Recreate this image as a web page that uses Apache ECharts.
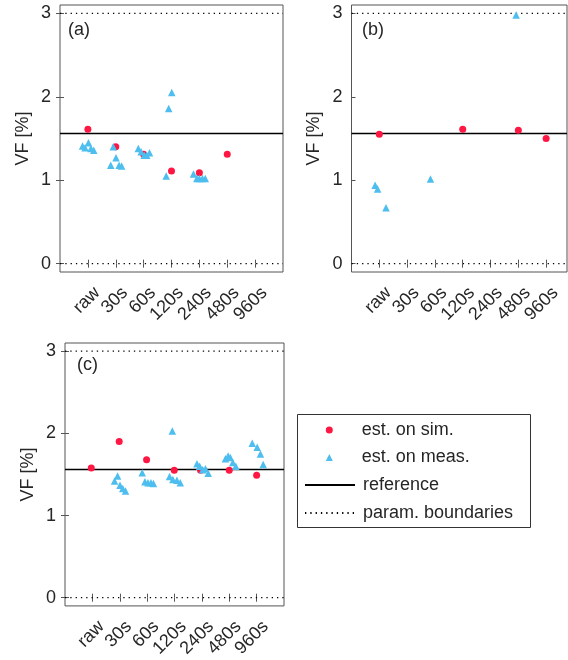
<!DOCTYPE html>
<html>
<head>
<meta charset="utf-8">
<script src="https://cdn.jsdelivr.net/npm/echarts@6/dist/echarts.min.js"></script>
<style>
  html, body { margin: 0; padding: 0; background: #fff; }
  #chart { width: 568px; height: 660px; }
</style>
</head>
<body>
<div id="chart"></div>
<script>
// ---------------- data ----------------
const CATEGORIES = ['raw', '30s', '60s', '120s', '240s', '480s', '960s'];
const Y_TICKS = [0, 1, 2, 3];
const REFERENCE = 1.56;
const BOUNDS = [0, 3];
const PANEL_LABELS = ['(a)', '(b)', '(c)'];
const MARKER_NAMES = ['est. on sim.', 'est. on meas.'];
const LINE_NAMES = ['reference', 'param. boundaries'];

// [category position incl. jitter, VF %]
const A_SIM = [[1, 1.61], [2, 1.40], [3, 1.31], [4, 1.11], [5, 1.09], [6, 1.31]];
const A_MEAS = [
  [0.81, 1.41], [1.02, 1.45], [0.90, 1.39], [1.11, 1.38], [1.21, 1.36],
  [1.91, 1.40], [2.01, 1.27], [1.82, 1.18], [2.12, 1.18], [2.21, 1.17],
  [2.81, 1.38], [2.91, 1.34], [3.02, 1.30], [3.11, 1.30], [3.21, 1.33],
  [4.01, 2.05], [3.90, 1.86], [3.81, 1.05],
  [4.79, 1.075], [4.91, 1.02], [5.00, 1.02], [5.11, 1.02], [5.21, 1.02]
];
const B_SIM = [[1, 1.55], [4, 1.61], [6, 1.60], [7, 1.50]];
const B_MEAS = [[0.85, 0.94], [0.94, 0.895], [1.24, 0.67], [2.84, 1.015], [5.92, 2.98]];
const C_SIM = [[0.96, 1.58], [1.98, 1.90], [2.98, 1.68], [3.99, 1.55], [4.95, 1.55], [6.00, 1.55], [7.00, 1.49]];
const C_MEAS = [
  [1.81, 1.42], [1.92, 1.48], [2.01, 1.37], [2.11, 1.33], [2.21, 1.30],
  [2.82, 1.52], [2.92, 1.41], [3.03, 1.40], [3.14, 1.40], [3.23, 1.39],
  [3.92, 2.03], [3.82, 1.475], [3.94, 1.44], [4.09, 1.43], [4.21, 1.40],
  [4.82, 1.63], [4.92, 1.60], [5.03, 1.556], [5.13, 1.57], [5.23, 1.516],
  [5.86, 1.69], [5.96, 1.725], [6.04, 1.705], [6.13, 1.645], [6.24, 1.60],
  [6.84, 1.88], [7.02, 1.83], [7.14, 1.75], [7.24, 1.62]
];
const SIM = [A_SIM, B_SIM, C_SIM];
const MEAS = [A_MEAS, B_MEAS, C_MEAS];

// ---------------- layout / style ----------------
const Y_MIN = -0.1, Y_MAX = 3.1;
const LABEL_SHIFT = 0.33;
const LAYOUT = [
  { left: 60, top: 5, width: 223, height: 267, xmax: 8, rightTicks: true, lblLeft: 68, lblTop: 21 },
  { left: 351.5, top: 5, width: 215.5, height: 267, xmax: 7.75, rightTicks: false, lblLeft: 362, lblTop: 21 },
  { left: 65, top: 343, width: 219, height: 264, xmax: 8, rightTicks: true, lblLeft: 77, lblTop: 356 }
];
const FONT = "'Liberation Sans', Arial, Helvetica, sans-serif";
const TEXT = '#262626';
const FRAME = '#555';
const RED = '#ff1744';
const BLUE = '#4dbeee';
const FS = 18;

const CAT_POS = CATEGORIES.map((_, i) => i + 1);

const grid = [], xAxis = [], yAxis = [], series = [], title = [];
LAYOUT.forEach((l, p) => {
  grid.push({ left: l.left, top: l.top, width: l.width, height: l.height, show: true,
              borderColor: FRAME, borderWidth: 1, backgroundColor: 'transparent' });
  title.push({ text: PANEL_LABELS[p], left: l.lblLeft, top: l.lblTop, padding: 0,
               textStyle: { fontSize: FS, fontWeight: 'normal', color: TEXT, fontFamily: FONT } });
  const tickBase = { show: true, inside: true, length: 4, customValues: CAT_POS, lineStyle: { color: FRAME } };
  xAxis.push({ gridIndex: p, type: 'value', min: 0, max: l.xmax, position: 'bottom',
    axisLine: { show: false }, splitLine: { show: false }, axisTick: tickBase, axisLabel: { show: false } });
  xAxis.push({ gridIndex: p, type: 'value', min: 0, max: l.xmax, position: 'top',
    axisLine: { show: false }, splitLine: { show: false }, axisTick: tickBase, axisLabel: { show: false } });
  xAxis.push({ gridIndex: p, type: 'value', min: -LABEL_SHIFT, max: l.xmax - LABEL_SHIFT, position: 'bottom',
    axisLine: { show: false }, splitLine: { show: false }, axisTick: { show: false },
    axisLabel: { show: true, customValues: CAT_POS, rotate: 45, margin: 18, fontSize: FS, color: TEXT, fontFamily: FONT,
      formatter: v => CATEGORIES[Math.round(v) - 1] || '' } });
  const yTick = { show: true, inside: true, length: 4, customValues: Y_TICKS, lineStyle: { color: FRAME } };
  yAxis.push({ gridIndex: p, type: 'value', min: Y_MIN, max: Y_MAX, position: 'left',
    axisLine: { show: false }, splitLine: { show: false }, axisTick: yTick,
    axisLabel: { customValues: Y_TICKS, fontSize: FS, margin: 9, color: TEXT, fontFamily: FONT },
    name: 'VF [%]', nameLocation: 'middle', nameGap: 28,
    nameTextStyle: { fontSize: FS, color: TEXT, fontFamily: FONT } });
  yAxis.push({ gridIndex: p, type: 'value', min: Y_MIN, max: Y_MAX, position: 'right',
    axisLine: { show: false }, splitLine: { show: false },
    axisTick: Object.assign({}, yTick, { show: l.rightTicks }), axisLabel: { show: false } });

  const xi = p * 3, yi = p * 2;
  BOUNDS.forEach(b => {
    series.push({ type: 'line', name: LINE_NAMES[1], xAxisIndex: xi, yAxisIndex: yi,
      data: [[0, b], [l.xmax, b]], symbol: 'none', silent: true, z: 1,
      itemStyle: { color: 'rgba(0,0,0,0)' },
      lineStyle: { color: '#000', width: 1.3, type: [1.3, 4] } });
  });
  series.push({ type: 'line', name: LINE_NAMES[0], xAxisIndex: xi, yAxisIndex: yi,
    data: [[0, REFERENCE], [l.xmax, REFERENCE]], symbol: 'none', silent: true, z: 1,
    itemStyle: { color: 'rgba(0,0,0,0)' },
    lineStyle: { color: '#000', width: 1.4, type: 'solid' } });
  series.push({ type: 'scatter', name: MARKER_NAMES[0], xAxisIndex: xi, yAxisIndex: yi,
    data: SIM[p], symbol: 'circle', symbolSize: 7, z: 2, itemStyle: { color: RED, opacity: 1 } });
  series.push({ type: 'scatter', name: MARKER_NAMES[1], xAxisIndex: xi, yAxisIndex: yi,
    data: MEAS[p], symbol: 'triangle', symbolSize: 7.5, z: 3, itemStyle: { color: BLUE, opacity: 1 } });
});

const legendText = { fontSize: FS, color: TEXT, lineHeight: 18, fontFamily: FONT };
const option = {
  animation: false,
  backgroundColor: '#fff',
  textStyle: { fontFamily: FONT },
  title,
  grid, xAxis, yAxis, series,
  legend: [
    {
      orient: 'vertical', left: 325.8, top: 421, padding: 0,
      data: MARKER_NAMES, itemWidth: 7, itemHeight: 7, itemGap: 9.5,
      selectedMode: false,
      textStyle: Object.assign({ padding: [0, 0, 0, 24] }, legendText)
    },
    {
      orient: 'vertical', left: 304, top: 476, padding: 0,
      data: LINE_NAMES, itemWidth: 50, itemHeight: 7, itemGap: 10,
      selectedMode: false,
      textStyle: Object.assign({ padding: [0, 0, 0, 3] }, legendText)
    }
  ],
  graphic: [{
    type: 'rect', silent: true, z: 0,
    shape: { x: 297.5, y: 414.5, width: 233, height: 113 },
    style: { fill: 'rgba(0,0,0,0)', stroke: '#333', lineWidth: 1 }
  }]
};

const chart = echarts.init(document.getElementById('chart'), null, { renderer: 'canvas' });
chart.setOption(option);
</script>
</body>
</html>
